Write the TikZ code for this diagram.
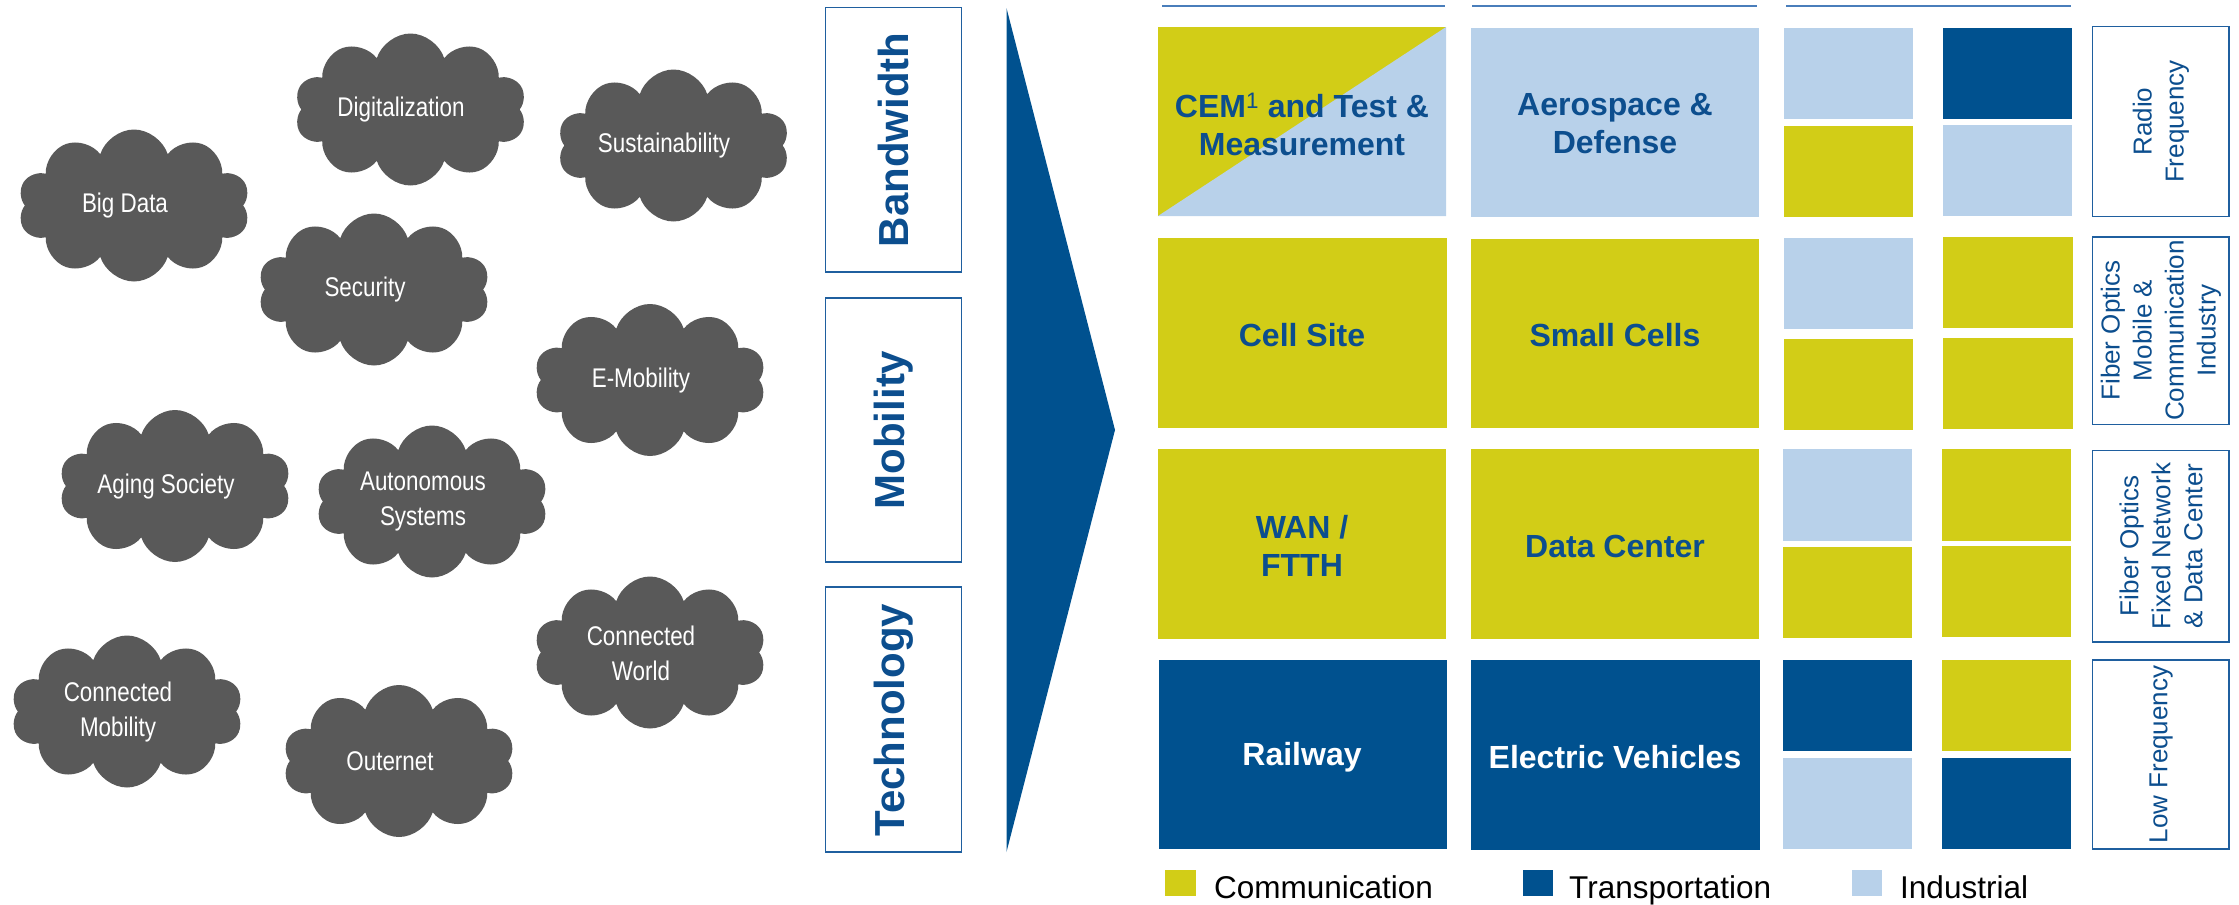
\documentclass[tikz,border=0pt]{standalone}
\usepackage{fontspec}
\setmainfont{Liberation Sans}
\newfontfamily\cloudfont[FakeStretch=0.83]{Liberation Sans}
\usetikzlibrary{shapes.symbols}
\definecolor{ygreen}{RGB}{210,205,23}
\definecolor{dblue}{RGB}{0,81,143}
\definecolor{lblue}{RGB}{184,209,234}
\definecolor{cgray}{RGB}{89,89,89}
\definecolor{tblue}{RGB}{12,78,142}
\definecolor{bline}{RGB}{31,95,159}
\definecolor{topline}{RGB}{74,126,187}
\tikzset{
  cloudnode/.style={cloud, cloud puffs=10, cloud puff arc=145, aspect=1.5, fill=cgray,
    minimum width=232pt, minimum height=152pt, inner sep=0pt, shape border rotate=8},
  cloudtext/.style={text=white, align=center, inner sep=0pt,
    font=\cloudfont\fontsize{27}{35}\selectfont},
  sidebox/.style={draw=bline, line width=1.5pt, inner sep=0pt},
  sidelabel/.style={rotate=90, text=tblue, font=\bfseries\fontsize{42}{48}\selectfont},
  gridlabel/.style={align=center, text=tblue, font=\bfseries\fontsize{32}{38}\selectfont},
  rlabel/.style={rotate=90, align=center, text=tblue, font=\fontsize{26}{32}\selectfont},
  leglabel/.style={anchor=base west, inner sep=0pt, text=black, font=\fontsize{31.5}{34}\selectfont},
  topbar/.style={topline, line width=1.5pt}
}
\begin{document}
\begin{tikzpicture}[x=1pt,y=-1pt]
\useasboundingbox (0,0) rectangle (2239,905);
% clouds
\node[cloudnode] (bigdata) at (134,205.5) {};
\node[cloudtext] (bigdata-t) at (125,206) {Big Data};
\node[cloudnode] (digital) at (410.5,109.5) {};
\node[cloudtext] (digital-t) at (401,110) {Digitalization};
\node[cloudnode] (sustain) at (673.5,145.5) {};
\node[cloudtext] (sustain-t) at (664,146) {Sustainability};
\node[cloudnode] (security) at (374,289.5) {};
\node[cloudtext] (security-t) at (365,290) {Security};
\node[cloudnode] (emob) at (650,380) {};
\node[cloudtext] (emob-t) at (641,380.5) {E-Mobility};
\node[cloudnode] (aging) at (175,486) {};
\node[cloudtext] (aging-t) at (166,486.5) {Aging Society};
\node[cloudnode] (auton) at (432,501.5) {};
\node[cloudtext] (auton-t) at (423,502) {Autonomous\\Systems};
\node[cloudnode] (cworld) at (650,652.5) {};
\node[cloudtext] (cworld-t) at (641,653) {Connected\\World};
\node[cloudnode] (cmob) at (127,711.5) {};
\node[cloudtext] (cmob-t) at (118,712) {Connected\\Mobility};
\node[cloudnode] (outer) at (399,761) {};
\node[cloudtext] (outer-t) at (390,761.5) {Outernet};
% left side boxes
\draw[sidebox] (825.5,7.5) rectangle (961.5,272);
\node[sidelabel] (bw) at (893.5,140) {Bandwidth};
\draw[sidebox] (825.5,298) rectangle (961.5,562);
\node[sidelabel] (mob) at (893.5,430) {Mobility};
\draw[sidebox] (825.5,587) rectangle (961.5,852);
\node[sidelabel] (tech) at (893.5,720) {Technology};
% arrow
\fill[dblue] (1006.5,8) -- (1115,430) -- (1006.5,852) -- cycle;
% top lines
\draw[topbar] (1162,6) -- (1445,6);
\draw[topbar] (1472,6) -- (1757,6);
\draw[topbar] (1786,6) -- (2071,6);
% row 1
\fill[ygreen] (1158,27) rectangle (1446,216);
\fill[lblue] (1158,216) -- (1446,27) -- (1446,216) -- cycle;
\node[gridlabel] (cem) at (1302,124) {CEM{\mdseries\textsuperscript{1}} and Test \&\\Measurement};
\fill[lblue] (1471,28) rectangle (1759,217);
\node[gridlabel] (aero) at (1615,124) {Aerospace \&\\Defense};
\fill[lblue] (1784,28) rectangle (1913,118.5);
\fill[ygreen] (1784,126) rectangle (1913,216.5);
\fill[dblue] (1943,28) rectangle (2072,118.5);
\fill[lblue] (1943,125) rectangle (2072,215.5);
% row 2
\fill[ygreen] (1158,238) rectangle (1447,427.5);
\node[gridlabel] (cell) at (1302,335) {Cell Site};
\fill[ygreen] (1471,239) rectangle (1759,427.5);
\node[gridlabel] (small) at (1615,335) {Small Cells};
\fill[lblue] (1784,238) rectangle (1913,328.5);
\fill[ygreen] (1784,339) rectangle (1913,429.5);
\fill[ygreen] (1943,237) rectangle (2073,327.5);
\fill[ygreen] (1943,338) rectangle (2073,428.5);
% row 3
\fill[ygreen] (1158,449) rectangle (1446,638.5);
\node[gridlabel] (wan) at (1302,546) {WAN /\\FTTH};
\fill[ygreen] (1471,449) rectangle (1759,638.5);
\node[gridlabel] (dc) at (1615,546) {Data Center};
\fill[lblue] (1783,449) rectangle (1912,540.5);
\fill[ygreen] (1783,547) rectangle (1912,637.5);
\fill[ygreen] (1942,449) rectangle (2071,540.5);
\fill[ygreen] (1942,546) rectangle (2071,637);
% row 4
\fill[dblue] (1159,660) rectangle (1447,848.5);
\node[gridlabel, text=white] (rail) at (1302,757) {Railway};
\fill[dblue] (1471,660) rectangle (1760,850);
\node[gridlabel, text=white] (ev) at (1615,757) {Electric Vehicles};
\fill[dblue] (1783,660) rectangle (1912,750.5);
\fill[lblue] (1783,758) rectangle (1912,848.5);
\fill[ygreen] (1942,660) rectangle (2071,750.5);
\fill[dblue] (1942,758) rectangle (2071,848.5);
% right boxes
\draw[sidebox] (2092.5,26.5) rectangle (2229,216.5);
\node[rlabel] (rf) at (2161,121.5) {Radio\\Frequency};
\draw[sidebox] (2092.5,237) rectangle (2229,424.5);
\node[rlabel] (fom) at (2161,330.5) {Fiber Optics\\Mobile \&\\Communication\\Industry};
\draw[sidebox] (2092.5,450.5) rectangle (2229,642);
\node[rlabel] (fof) at (2161,546) {Fiber Optics\\Fixed Network\\\& Data Center};
\draw[sidebox] (2092.5,660) rectangle (2229,849);
\node[rlabel] (lf) at (2161,754.5) {Low Frequency};
% legend
\fill[ygreen] (1165,870) rectangle (1196,896);
\node[leglabel] (lcomm) at (1214,898) {Communication};
\fill[dblue] (1523,870) rectangle (1553,896);
\node[leglabel] (ltrans) at (1569,898) {Transportation};
\fill[lblue] (1852,870) rectangle (1882,896);
\node[leglabel] (lind) at (1900,898) {Industrial};
\end{tikzpicture}
\end{document}
